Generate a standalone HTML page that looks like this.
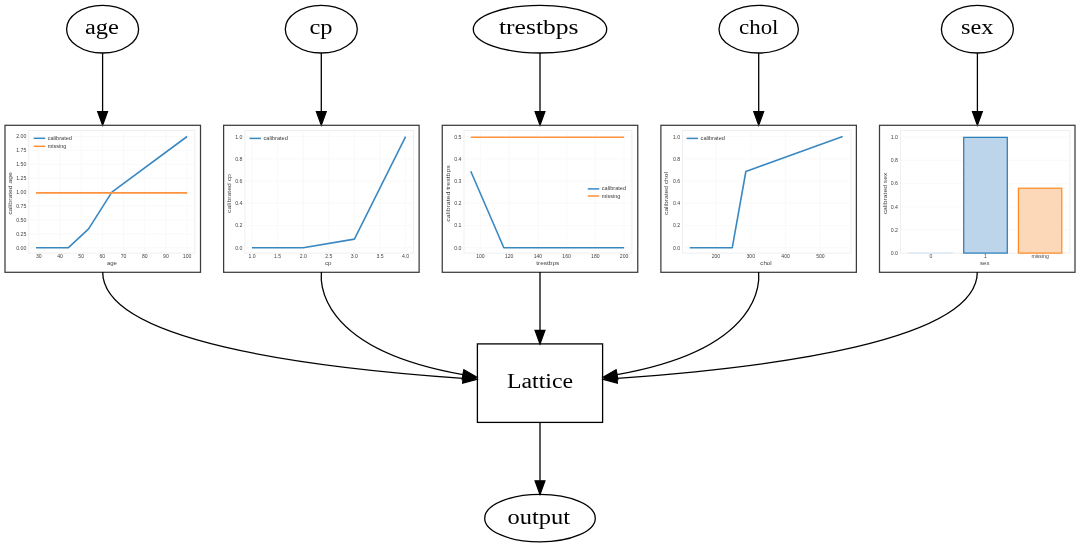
<!DOCTYPE html>
<html><head><meta charset="utf-8"><style>
html,body{margin:0;padding:0;background:#fff;width:1080px;height:548px;overflow:hidden}
svg{display:block;will-change:transform}
</style></head><body>
<svg width="1080" height="548" viewBox="0 0 1080 548">
<rect width="1080" height="548" fill="#fff"/>
<ellipse cx="102.6" cy="29.15" rx="36.0" ry="23.85" fill="none" stroke="#000" stroke-width="1.3"/>
<text x="85.0" y="33.7" font-family='"Liberation Serif", serif' font-size="20" textLength="33.98" lengthAdjust="spacingAndGlyphs">age</text>
<line x1="102.6" y1="53.0" x2="102.6" y2="111.7" stroke="#000" stroke-width="1.3"/>
<polygon points="97.64999999999999,111.7 107.55,111.7 102.6,125.3" fill="#000" stroke="#000" stroke-width="1.2"/>
<ellipse cx="321.3" cy="29.15" rx="36.0" ry="23.85" fill="none" stroke="#000" stroke-width="1.3"/>
<text x="309.5" y="33.7" font-family='"Liberation Serif", serif' font-size="20" textLength="23.12" lengthAdjust="spacingAndGlyphs">cp</text>
<line x1="321.3" y1="53.0" x2="321.3" y2="111.7" stroke="#000" stroke-width="1.3"/>
<polygon points="316.35,111.7 326.25,111.7 321.3,125.3" fill="#000" stroke="#000" stroke-width="1.2"/>
<ellipse cx="540" cy="29.15" rx="66.7" ry="23.85" fill="none" stroke="#000" stroke-width="1.3"/>
<text x="499.0" y="33.7" font-family='"Liberation Serif", serif' font-size="20" textLength="79.48" lengthAdjust="spacingAndGlyphs">trestbps</text>
<line x1="540" y1="53.0" x2="540" y2="111.7" stroke="#000" stroke-width="1.3"/>
<polygon points="535.05,111.7 544.95,111.7 540,125.3" fill="#000" stroke="#000" stroke-width="1.2"/>
<ellipse cx="758.7" cy="29.15" rx="39.7" ry="23.85" fill="none" stroke="#000" stroke-width="1.3"/>
<text x="739.0" y="33.7" font-family='"Liberation Serif", serif' font-size="20" textLength="39.48" lengthAdjust="spacingAndGlyphs">chol</text>
<line x1="758.7" y1="53.0" x2="758.7" y2="111.7" stroke="#000" stroke-width="1.3"/>
<polygon points="753.75,111.7 763.6500000000001,111.7 758.7,125.3" fill="#000" stroke="#000" stroke-width="1.2"/>
<ellipse cx="977.4" cy="29.15" rx="36.0" ry="23.85" fill="none" stroke="#000" stroke-width="1.3"/>
<text x="961.0" y="33.7" font-family='"Liberation Serif", serif' font-size="20" textLength="32.48" lengthAdjust="spacingAndGlyphs">sex</text>
<line x1="977.4" y1="53.0" x2="977.4" y2="111.7" stroke="#000" stroke-width="1.3"/>
<polygon points="972.4499999999999,111.7 982.35,111.7 977.4,125.3" fill="#000" stroke="#000" stroke-width="1.2"/>
<rect x="5.00" y="125.3" width="195.5" height="147.0" fill="none" stroke="#3c3c3c" stroke-width="1.25"/>
<rect x="223.62" y="125.3" width="195.5" height="147.0" fill="none" stroke="#3c3c3c" stroke-width="1.25"/>
<rect x="442.25" y="125.3" width="195.5" height="147.0" fill="none" stroke="#3c3c3c" stroke-width="1.25"/>
<rect x="660.88" y="125.3" width="195.5" height="147.0" fill="none" stroke="#3c3c3c" stroke-width="1.25"/>
<rect x="879.50" y="125.3" width="195.5" height="147.0" fill="none" stroke="#3c3c3c" stroke-width="1.25"/>
<path d="M102.7,272.0 C102.7,341.37 309.1,367.55 463.0,378.34" fill="none" stroke="#000" stroke-width="1.3"/>
<polygon points="462.65,383.28 463.35,373.40 476.97,379.32" fill="#000" stroke="#000" stroke-width="1.2"/>
<path d="M321.4,272.0 C321.4,274.05 309.44,347.58 463.0,374.64" fill="none" stroke="#000" stroke-width="1.3"/>
<polygon points="462.14,379.51 463.86,369.77 476.79,377.07" fill="#000" stroke="#000" stroke-width="1.2"/>
<path d="M977.3,272.0 C977.3,341.37 770.9,367.55 617.0,378.34" fill="none" stroke="#000" stroke-width="1.3"/>
<polygon points="616.65,373.40 617.35,383.28 603.03,379.32" fill="#000" stroke="#000" stroke-width="1.2"/>
<path d="M758.6,272.0 C758.6,274.05 770.56,347.58 617.0,374.64" fill="none" stroke="#000" stroke-width="1.3"/>
<polygon points="616.14,369.77 617.86,379.51 603.21,377.07" fill="#000" stroke="#000" stroke-width="1.2"/>
<line x1="540" y1="272" x2="540" y2="330.29999999999995" stroke="#000" stroke-width="1.3"/>
<polygon points="535.05,330.30 544.95,330.30 540.00,343.90" fill="#000" stroke="#000" stroke-width="1.2"/>
<rect x="477.4" y="343.9" width="125.2" height="78.5" fill="none" stroke="#000" stroke-width="1.3"/>
<text x="507.0" y="387.6" font-family='"Liberation Serif", serif' font-size="20" textLength="66.02" lengthAdjust="spacingAndGlyphs">Lattice</text>
<line x1="540" y1="422.4" x2="540" y2="480.79999999999995" stroke="#000" stroke-width="1.3"/>
<polygon points="535.05,480.79999999999995 544.95,480.79999999999995 540,494.4" fill="#000" stroke="#000" stroke-width="1.2"/>
<ellipse cx="540" cy="518.15" rx="55.3" ry="23.75" fill="none" stroke="#000" stroke-width="1.3"/>
<text x="507.5" y="523.7" font-family='"Liberation Serif", serif' font-size="20" textLength="62.48" lengthAdjust="spacingAndGlyphs">output</text>
<rect x="28.8" y="130.6" width="166.00" height="122.50" fill="#fff" stroke="#ebebeb" stroke-width="0.8"/>
<line x1="38.80" y1="130.6" x2="38.80" y2="253.1" stroke="#f5f5f5" stroke-width="0.6"/>
<text x="38.80" y="258.4" font-family='"Liberation Sans", sans-serif' font-size="5.1" fill="#444" text-anchor="middle">30</text>
<line x1="59.99" y1="130.6" x2="59.99" y2="253.1" stroke="#f5f5f5" stroke-width="0.6"/>
<text x="59.99" y="258.4" font-family='"Liberation Sans", sans-serif' font-size="5.1" fill="#444" text-anchor="middle">40</text>
<line x1="81.17" y1="130.6" x2="81.17" y2="253.1" stroke="#f5f5f5" stroke-width="0.6"/>
<text x="81.17" y="258.4" font-family='"Liberation Sans", sans-serif' font-size="5.1" fill="#444" text-anchor="middle">50</text>
<line x1="102.36" y1="130.6" x2="102.36" y2="253.1" stroke="#f5f5f5" stroke-width="0.6"/>
<text x="102.36" y="258.4" font-family='"Liberation Sans", sans-serif' font-size="5.1" fill="#444" text-anchor="middle">60</text>
<line x1="123.54" y1="130.6" x2="123.54" y2="253.1" stroke="#f5f5f5" stroke-width="0.6"/>
<text x="123.54" y="258.4" font-family='"Liberation Sans", sans-serif' font-size="5.1" fill="#444" text-anchor="middle">70</text>
<line x1="144.73" y1="130.6" x2="144.73" y2="253.1" stroke="#f5f5f5" stroke-width="0.6"/>
<text x="144.73" y="258.4" font-family='"Liberation Sans", sans-serif' font-size="5.1" fill="#444" text-anchor="middle">80</text>
<line x1="165.91" y1="130.6" x2="165.91" y2="253.1" stroke="#f5f5f5" stroke-width="0.6"/>
<text x="165.91" y="258.4" font-family='"Liberation Sans", sans-serif' font-size="5.1" fill="#444" text-anchor="middle">90</text>
<line x1="187.10" y1="130.6" x2="187.10" y2="253.1" stroke="#f5f5f5" stroke-width="0.6"/>
<text x="187.10" y="258.4" font-family='"Liberation Sans", sans-serif' font-size="5.1" fill="#444" text-anchor="middle">100</text>
<line x1="28.8" y1="247.70" x2="194.8" y2="247.70" stroke="#f5f5f5" stroke-width="0.6"/>
<text x="26.30" y="249.60" font-family='"Liberation Sans", sans-serif' font-size="5.2" fill="#444" text-anchor="end">0.00</text>
<line x1="28.8" y1="233.80" x2="194.8" y2="233.80" stroke="#f5f5f5" stroke-width="0.6"/>
<text x="26.30" y="235.70" font-family='"Liberation Sans", sans-serif' font-size="5.2" fill="#444" text-anchor="end">0.25</text>
<line x1="28.8" y1="219.90" x2="194.8" y2="219.90" stroke="#f5f5f5" stroke-width="0.6"/>
<text x="26.30" y="221.80" font-family='"Liberation Sans", sans-serif' font-size="5.2" fill="#444" text-anchor="end">0.50</text>
<line x1="28.8" y1="206.00" x2="194.8" y2="206.00" stroke="#f5f5f5" stroke-width="0.6"/>
<text x="26.30" y="207.90" font-family='"Liberation Sans", sans-serif' font-size="5.2" fill="#444" text-anchor="end">0.75</text>
<line x1="28.8" y1="192.10" x2="194.8" y2="192.10" stroke="#f5f5f5" stroke-width="0.6"/>
<text x="26.30" y="194.00" font-family='"Liberation Sans", sans-serif' font-size="5.2" fill="#444" text-anchor="end">1.00</text>
<line x1="28.8" y1="178.20" x2="194.8" y2="178.20" stroke="#f5f5f5" stroke-width="0.6"/>
<text x="26.30" y="180.10" font-family='"Liberation Sans", sans-serif' font-size="5.2" fill="#444" text-anchor="end">1.25</text>
<line x1="28.8" y1="164.30" x2="194.8" y2="164.30" stroke="#f5f5f5" stroke-width="0.6"/>
<text x="26.30" y="166.20" font-family='"Liberation Sans", sans-serif' font-size="5.2" fill="#444" text-anchor="end">1.50</text>
<line x1="28.8" y1="150.40" x2="194.8" y2="150.40" stroke="#f5f5f5" stroke-width="0.6"/>
<text x="26.30" y="152.30" font-family='"Liberation Sans", sans-serif' font-size="5.2" fill="#444" text-anchor="end">1.75</text>
<line x1="28.8" y1="136.50" x2="194.8" y2="136.50" stroke="#f5f5f5" stroke-width="0.6"/>
<text x="26.30" y="138.40" font-family='"Liberation Sans", sans-serif' font-size="5.2" fill="#444" text-anchor="end">2.00</text>
<polyline points="36.05,247.70 68.46,247.70 88.59,228.91 111.89,192.10 187.10,136.50" fill="none" stroke="#3a88c2" stroke-width="1.6" stroke-linejoin="round"/>
<polyline points="36.05,192.88 187.10,192.88" fill="none" stroke="#ff923c" stroke-width="1.6" stroke-linejoin="round"/>
<line x1="33.7" y1="138.3" x2="45.2" y2="138.3" stroke="#3a88c2" stroke-width="1.5"/>
<text x="47.7" y="139.8" font-family='"Liberation Sans", sans-serif' font-size="5.3" fill="#3a3a3a" textLength="24.3" lengthAdjust="spacingAndGlyphs">calibrated</text>
<line x1="33.7" y1="146.3" x2="45.2" y2="146.3" stroke="#ff923c" stroke-width="1.5"/>
<text x="47.7" y="147.8" font-family='"Liberation Sans", sans-serif' font-size="5.3" fill="#3a3a3a" textLength="18.6" lengthAdjust="spacingAndGlyphs">missing</text>
<text transform="translate(12.4,193.5) rotate(-90)" font-family='"Liberation Sans", sans-serif' font-size="6.1" fill="#444" text-anchor="middle" textLength="42.7" lengthAdjust="spacingAndGlyphs">calibrated age</text>
<text x="111.9" y="265.4" font-family='"Liberation Sans", sans-serif' font-size="5.6" fill="#444" text-anchor="middle" textLength="10.0" lengthAdjust="spacingAndGlyphs">age</text>
<rect x="244.9" y="130.6" width="168.80" height="122.50" fill="#fff" stroke="#ebebeb" stroke-width="0.8"/>
<line x1="252.00" y1="130.6" x2="252.00" y2="253.1" stroke="#f5f5f5" stroke-width="0.6"/>
<text x="252.00" y="258.4" font-family='"Liberation Sans", sans-serif' font-size="5.1" fill="#444" text-anchor="middle">1.0</text>
<line x1="277.60" y1="130.6" x2="277.60" y2="253.1" stroke="#f5f5f5" stroke-width="0.6"/>
<text x="277.60" y="258.4" font-family='"Liberation Sans", sans-serif' font-size="5.1" fill="#444" text-anchor="middle">1.5</text>
<line x1="303.20" y1="130.6" x2="303.20" y2="253.1" stroke="#f5f5f5" stroke-width="0.6"/>
<text x="303.20" y="258.4" font-family='"Liberation Sans", sans-serif' font-size="5.1" fill="#444" text-anchor="middle">2.0</text>
<line x1="328.80" y1="130.6" x2="328.80" y2="253.1" stroke="#f5f5f5" stroke-width="0.6"/>
<text x="328.80" y="258.4" font-family='"Liberation Sans", sans-serif' font-size="5.1" fill="#444" text-anchor="middle">2.5</text>
<line x1="354.40" y1="130.6" x2="354.40" y2="253.1" stroke="#f5f5f5" stroke-width="0.6"/>
<text x="354.40" y="258.4" font-family='"Liberation Sans", sans-serif' font-size="5.1" fill="#444" text-anchor="middle">3.0</text>
<line x1="380.00" y1="130.6" x2="380.00" y2="253.1" stroke="#f5f5f5" stroke-width="0.6"/>
<text x="380.00" y="258.4" font-family='"Liberation Sans", sans-serif' font-size="5.1" fill="#444" text-anchor="middle">3.5</text>
<line x1="405.60" y1="130.6" x2="405.60" y2="253.1" stroke="#f5f5f5" stroke-width="0.6"/>
<text x="405.60" y="258.4" font-family='"Liberation Sans", sans-serif' font-size="5.1" fill="#444" text-anchor="middle">4.0</text>
<line x1="244.9" y1="247.70" x2="413.7" y2="247.70" stroke="#f5f5f5" stroke-width="0.6"/>
<text x="242.40" y="249.60" font-family='"Liberation Sans", sans-serif' font-size="5.2" fill="#444" text-anchor="end">0.0</text>
<line x1="244.9" y1="225.48" x2="413.7" y2="225.48" stroke="#f5f5f5" stroke-width="0.6"/>
<text x="242.40" y="227.38" font-family='"Liberation Sans", sans-serif' font-size="5.2" fill="#444" text-anchor="end">0.2</text>
<line x1="244.9" y1="203.26" x2="413.7" y2="203.26" stroke="#f5f5f5" stroke-width="0.6"/>
<text x="242.40" y="205.16" font-family='"Liberation Sans", sans-serif' font-size="5.2" fill="#444" text-anchor="end">0.4</text>
<line x1="244.9" y1="181.04" x2="413.7" y2="181.04" stroke="#f5f5f5" stroke-width="0.6"/>
<text x="242.40" y="182.94" font-family='"Liberation Sans", sans-serif' font-size="5.2" fill="#444" text-anchor="end">0.6</text>
<line x1="244.9" y1="158.82" x2="413.7" y2="158.82" stroke="#f5f5f5" stroke-width="0.6"/>
<text x="242.40" y="160.72" font-family='"Liberation Sans", sans-serif' font-size="5.2" fill="#444" text-anchor="end">0.8</text>
<line x1="244.9" y1="136.60" x2="413.7" y2="136.60" stroke="#f5f5f5" stroke-width="0.6"/>
<text x="242.40" y="138.50" font-family='"Liberation Sans", sans-serif' font-size="5.2" fill="#444" text-anchor="end">1.0</text>
<polyline points="252.00,247.70 303.20,247.70 354.40,239.15 405.60,136.60" fill="none" stroke="#3a88c2" stroke-width="1.6" stroke-linejoin="round"/>
<line x1="249.5" y1="138.4" x2="261.0" y2="138.4" stroke="#3a88c2" stroke-width="1.5"/>
<text x="263.5" y="139.9" font-family='"Liberation Sans", sans-serif' font-size="5.3" fill="#3a3a3a" textLength="24.3" lengthAdjust="spacingAndGlyphs">calibrated</text>
<text transform="translate(231.0,193.5) rotate(-90)" font-family='"Liberation Sans", sans-serif' font-size="6.1" fill="#444" text-anchor="middle" textLength="38.8" lengthAdjust="spacingAndGlyphs">calibrated cp</text>
<text x="328.3" y="265.4" font-family='"Liberation Sans", sans-serif' font-size="5.6" fill="#444" text-anchor="middle" textLength="6.6" lengthAdjust="spacingAndGlyphs">cp</text>
<rect x="464" y="130.6" width="167.90" height="122.50" fill="#fff" stroke="#ebebeb" stroke-width="0.8"/>
<line x1="480.40" y1="130.6" x2="480.40" y2="253.1" stroke="#f5f5f5" stroke-width="0.6"/>
<text x="480.40" y="258.4" font-family='"Liberation Sans", sans-serif' font-size="5.1" fill="#444" text-anchor="middle">100</text>
<line x1="509.14" y1="130.6" x2="509.14" y2="253.1" stroke="#f5f5f5" stroke-width="0.6"/>
<text x="509.14" y="258.4" font-family='"Liberation Sans", sans-serif' font-size="5.1" fill="#444" text-anchor="middle">120</text>
<line x1="537.88" y1="130.6" x2="537.88" y2="253.1" stroke="#f5f5f5" stroke-width="0.6"/>
<text x="537.88" y="258.4" font-family='"Liberation Sans", sans-serif' font-size="5.1" fill="#444" text-anchor="middle">140</text>
<line x1="566.62" y1="130.6" x2="566.62" y2="253.1" stroke="#f5f5f5" stroke-width="0.6"/>
<text x="566.62" y="258.4" font-family='"Liberation Sans", sans-serif' font-size="5.1" fill="#444" text-anchor="middle">160</text>
<line x1="595.36" y1="130.6" x2="595.36" y2="253.1" stroke="#f5f5f5" stroke-width="0.6"/>
<text x="595.36" y="258.4" font-family='"Liberation Sans", sans-serif' font-size="5.1" fill="#444" text-anchor="middle">180</text>
<line x1="624.10" y1="130.6" x2="624.10" y2="253.1" stroke="#f5f5f5" stroke-width="0.6"/>
<text x="624.10" y="258.4" font-family='"Liberation Sans", sans-serif' font-size="5.1" fill="#444" text-anchor="middle">200</text>
<line x1="464" y1="247.70" x2="631.9" y2="247.70" stroke="#f5f5f5" stroke-width="0.6"/>
<text x="461.50" y="249.60" font-family='"Liberation Sans", sans-serif' font-size="5.2" fill="#444" text-anchor="end">0.0</text>
<line x1="464" y1="225.48" x2="631.9" y2="225.48" stroke="#f5f5f5" stroke-width="0.6"/>
<text x="461.50" y="227.38" font-family='"Liberation Sans", sans-serif' font-size="5.2" fill="#444" text-anchor="end">0.1</text>
<line x1="464" y1="203.26" x2="631.9" y2="203.26" stroke="#f5f5f5" stroke-width="0.6"/>
<text x="461.50" y="205.16" font-family='"Liberation Sans", sans-serif' font-size="5.2" fill="#444" text-anchor="end">0.2</text>
<line x1="464" y1="181.04" x2="631.9" y2="181.04" stroke="#f5f5f5" stroke-width="0.6"/>
<text x="461.50" y="182.94" font-family='"Liberation Sans", sans-serif' font-size="5.2" fill="#444" text-anchor="end">0.3</text>
<line x1="464" y1="158.82" x2="631.9" y2="158.82" stroke="#f5f5f5" stroke-width="0.6"/>
<text x="461.50" y="160.72" font-family='"Liberation Sans", sans-serif' font-size="5.2" fill="#444" text-anchor="end">0.4</text>
<line x1="464" y1="136.60" x2="631.9" y2="136.60" stroke="#f5f5f5" stroke-width="0.6"/>
<text x="461.50" y="138.50" font-family='"Liberation Sans", sans-serif' font-size="5.2" fill="#444" text-anchor="end">0.5</text>
<polyline points="470.77,171.26 503.82,247.70 624.10,247.70" fill="none" stroke="#3a88c2" stroke-width="1.6" stroke-linejoin="round"/>
<polyline points="470.77,137.27 624.10,137.27" fill="none" stroke="#ff923c" stroke-width="1.6" stroke-linejoin="round"/>
<line x1="587.8" y1="188.9" x2="599.3" y2="188.9" stroke="#3a88c2" stroke-width="1.5"/>
<text x="601.8" y="190.4" font-family='"Liberation Sans", sans-serif' font-size="5.3" fill="#3a3a3a" textLength="24.3" lengthAdjust="spacingAndGlyphs">calibrated</text>
<line x1="587.8" y1="196.0" x2="599.3" y2="196.0" stroke="#ff923c" stroke-width="1.5"/>
<text x="601.8" y="197.5" font-family='"Liberation Sans", sans-serif' font-size="5.3" fill="#3a3a3a" textLength="18.6" lengthAdjust="spacingAndGlyphs">missing</text>
<text transform="translate(449.6,193.5) rotate(-90)" font-family='"Liberation Sans", sans-serif' font-size="6.1" fill="#444" text-anchor="middle" textLength="56.4" lengthAdjust="spacingAndGlyphs">calibrated trestbps</text>
<text x="547.8" y="265.4" font-family='"Liberation Sans", sans-serif' font-size="5.6" fill="#444" text-anchor="middle" textLength="23.0" lengthAdjust="spacingAndGlyphs">trestbps</text>
<rect x="682.6" y="130.6" width="168.40" height="122.50" fill="#fff" stroke="#ebebeb" stroke-width="0.8"/>
<line x1="715.90" y1="130.6" x2="715.90" y2="253.1" stroke="#f5f5f5" stroke-width="0.6"/>
<text x="715.90" y="258.4" font-family='"Liberation Sans", sans-serif' font-size="5.1" fill="#444" text-anchor="middle">200</text>
<line x1="750.73" y1="130.6" x2="750.73" y2="253.1" stroke="#f5f5f5" stroke-width="0.6"/>
<text x="750.73" y="258.4" font-family='"Liberation Sans", sans-serif' font-size="5.1" fill="#444" text-anchor="middle">300</text>
<line x1="785.57" y1="130.6" x2="785.57" y2="253.1" stroke="#f5f5f5" stroke-width="0.6"/>
<text x="785.57" y="258.4" font-family='"Liberation Sans", sans-serif' font-size="5.1" fill="#444" text-anchor="middle">400</text>
<line x1="820.40" y1="130.6" x2="820.40" y2="253.1" stroke="#f5f5f5" stroke-width="0.6"/>
<text x="820.40" y="258.4" font-family='"Liberation Sans", sans-serif' font-size="5.1" fill="#444" text-anchor="middle">500</text>
<line x1="682.6" y1="247.70" x2="851" y2="247.70" stroke="#f5f5f5" stroke-width="0.6"/>
<text x="680.10" y="249.60" font-family='"Liberation Sans", sans-serif' font-size="5.2" fill="#444" text-anchor="end">0.0</text>
<line x1="682.6" y1="225.48" x2="851" y2="225.48" stroke="#f5f5f5" stroke-width="0.6"/>
<text x="680.10" y="227.38" font-family='"Liberation Sans", sans-serif' font-size="5.2" fill="#444" text-anchor="end">0.2</text>
<line x1="682.6" y1="203.26" x2="851" y2="203.26" stroke="#f5f5f5" stroke-width="0.6"/>
<text x="680.10" y="205.16" font-family='"Liberation Sans", sans-serif' font-size="5.2" fill="#444" text-anchor="end">0.4</text>
<line x1="682.6" y1="181.04" x2="851" y2="181.04" stroke="#f5f5f5" stroke-width="0.6"/>
<text x="680.10" y="182.94" font-family='"Liberation Sans", sans-serif' font-size="5.2" fill="#444" text-anchor="end">0.6</text>
<line x1="682.6" y1="158.82" x2="851" y2="158.82" stroke="#f5f5f5" stroke-width="0.6"/>
<text x="680.10" y="160.72" font-family='"Liberation Sans", sans-serif' font-size="5.2" fill="#444" text-anchor="end">0.8</text>
<line x1="682.6" y1="136.60" x2="851" y2="136.60" stroke="#f5f5f5" stroke-width="0.6"/>
<text x="680.10" y="138.50" font-family='"Liberation Sans", sans-serif' font-size="5.2" fill="#444" text-anchor="end">1.0</text>
<polyline points="689.77,247.70 732.27,247.70 745.86,171.49 842.69,136.60" fill="none" stroke="#3a88c2" stroke-width="1.6" stroke-linejoin="round"/>
<line x1="686.6" y1="138.4" x2="698.1" y2="138.4" stroke="#3a88c2" stroke-width="1.5"/>
<text x="700.6" y="139.9" font-family='"Liberation Sans", sans-serif' font-size="5.3" fill="#3a3a3a" textLength="24.3" lengthAdjust="spacingAndGlyphs">calibrated</text>
<text transform="translate(668.2,193.5) rotate(-90)" font-family='"Liberation Sans", sans-serif' font-size="6.1" fill="#444" text-anchor="middle" textLength="42.9" lengthAdjust="spacingAndGlyphs">calibrated chol</text>
<text x="766" y="265.4" font-family='"Liberation Sans", sans-serif' font-size="5.6" fill="#444" text-anchor="middle" textLength="11.4" lengthAdjust="spacingAndGlyphs">chol</text>
<rect x="900.5" y="130.6" width="169.40" height="122.50" fill="#fff" stroke="#ebebeb" stroke-width="0.8"/>
<line x1="900.5" y1="253.20" x2="1069.9" y2="253.20" stroke="#f5f5f5" stroke-width="0.6"/>
<text x="898.00" y="255.10" font-family='"Liberation Sans", sans-serif' font-size="5.2" fill="#444" text-anchor="end">0.0</text>
<line x1="900.5" y1="229.96" x2="1069.9" y2="229.96" stroke="#f5f5f5" stroke-width="0.6"/>
<text x="898.00" y="231.86" font-family='"Liberation Sans", sans-serif' font-size="5.2" fill="#444" text-anchor="end">0.2</text>
<line x1="900.5" y1="206.72" x2="1069.9" y2="206.72" stroke="#f5f5f5" stroke-width="0.6"/>
<text x="898.00" y="208.62" font-family='"Liberation Sans", sans-serif' font-size="5.2" fill="#444" text-anchor="end">0.4</text>
<line x1="900.5" y1="183.48" x2="1069.9" y2="183.48" stroke="#f5f5f5" stroke-width="0.6"/>
<text x="898.00" y="185.38" font-family='"Liberation Sans", sans-serif' font-size="5.2" fill="#444" text-anchor="end">0.6</text>
<line x1="900.5" y1="160.24" x2="1069.9" y2="160.24" stroke="#f5f5f5" stroke-width="0.6"/>
<text x="898.00" y="162.14" font-family='"Liberation Sans", sans-serif' font-size="5.2" fill="#444" text-anchor="end">0.8</text>
<line x1="900.5" y1="137.00" x2="1069.9" y2="137.00" stroke="#f5f5f5" stroke-width="0.6"/>
<text x="898.00" y="138.90" font-family='"Liberation Sans", sans-serif' font-size="5.2" fill="#444" text-anchor="end">1.0</text>
<rect x="909" y="252.97" width="43.60000000000002" height="0.13" fill="#e8f0f7" stroke="#dce8f3" stroke-width="1.25"/>
<rect x="963.7" y="137.35" width="43.59999999999991" height="115.75" fill="#bdd5ea" stroke="#2c7fb8" stroke-width="1.25"/>
<rect x="1018.4" y="188.24" width="43.39999999999998" height="64.86" fill="#fdd8b8" stroke="#ff8c28" stroke-width="1.25"/>
<text transform="translate(886.8,193.5) rotate(-90)" font-family='"Liberation Sans", sans-serif' font-size="6.1" fill="#444" text-anchor="middle" textLength="41.5" lengthAdjust="spacingAndGlyphs">calibrated sex</text>
<text x="984.8" y="265.4" font-family='"Liberation Sans", sans-serif' font-size="5.6" fill="#444" text-anchor="middle" textLength="9.5" lengthAdjust="spacingAndGlyphs">sex</text>
<text x="930.80" y="258.4" font-family='"Liberation Sans", sans-serif' font-size="5.1" fill="#444" text-anchor="middle">0</text>
<text x="985.50" y="258.4" font-family='"Liberation Sans", sans-serif' font-size="5.1" fill="#444" text-anchor="middle">1</text>
<text x="1040.10" y="258.4" font-family='"Liberation Sans", sans-serif' font-size="5.1" fill="#444" text-anchor="middle">missing</text>
</svg></body></html>
